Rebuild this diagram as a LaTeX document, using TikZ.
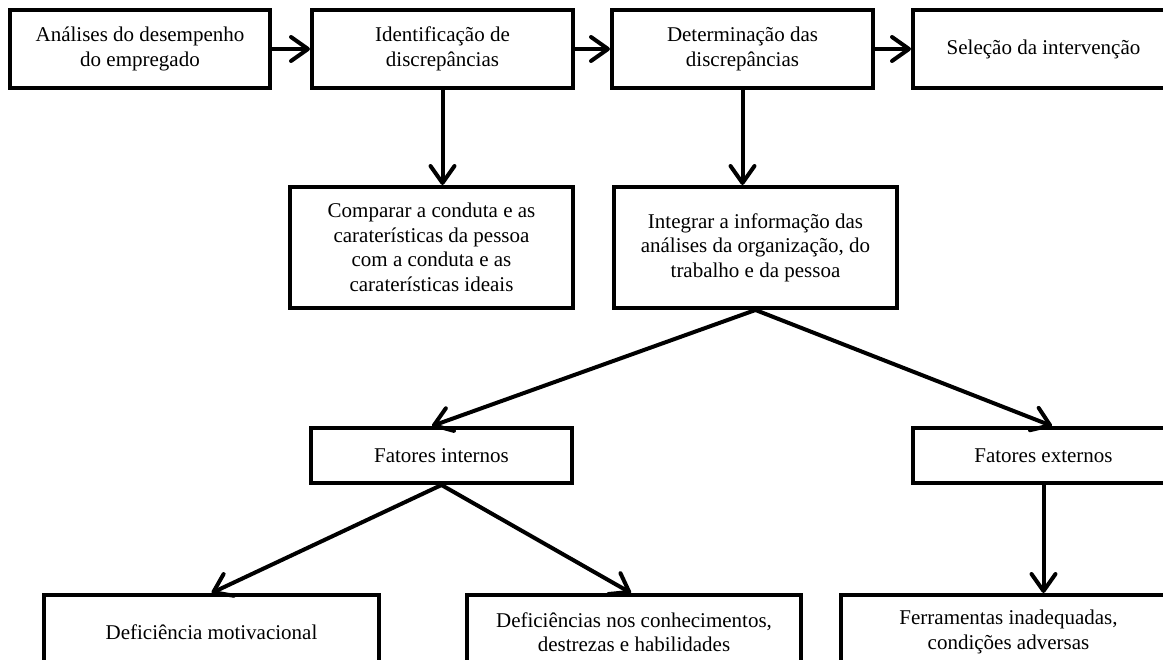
\documentclass[tikz,border=0pt]{standalone}
\usepackage{fontspec}
\setmainfont{Liberation Serif}
\usetikzlibrary{arrows.meta}
\begin{document}
\begin{tikzpicture}[x=1pt,y=-1pt,
  box/.style={draw=black, line width=4pt, fill=white, inner sep=0pt,
    align=center, font=\fontsize{21}{24.5}\selectfont},
  arr/.style={line width=4pt, line cap=round,
    -{Straight Barb[length=17pt,width=24pt,line width=4pt,round]}}]
\useasboundingbox (0,0) rectangle (1163,660);
\clip (0,0) rectangle (1163,660);

% top row: the four stages
\node[box, minimum width=260pt, minimum height=78pt] (b1) at (140,49)
  {Análises do desempenho\\do empregado};
\node[box, minimum width=261pt, minimum height=78pt] (b2) at (442.5,49)
  {Identificação de\\discrepâncias};
\node[box, minimum width=261pt, minimum height=78pt] (b3) at (742.5,49)
  {Determinação das\\discrepâncias};
\node[box, minimum width=261pt, minimum height=78pt] (b4) at (1043.5,49)
  {Seleção da intervenção};

% second row
\node[box, minimum width=283pt, minimum height=121pt] (c1) at (431.5,247.5)
  {Comparar a conduta e as\\caraterísticas da pessoa\\com a conduta e as\\caraterísticas ideais};
\node[box, minimum width=283pt, minimum height=121pt] (c2) at (755.5,247.5)
  {Integrar a informação das\\análises da organização, do\\trabalho e da pessoa};

% factors
\node[box, minimum width=261pt, minimum height=55pt] (f1) at (441.5,455.5)
  {Fatores internos};
\node[box, minimum width=261pt, minimum height=55pt] (f2) at (1043.5,455.5)
  {Fatores externos};

% deficiencies (their lower part runs past the page edge)
\node[box, minimum width=335pt, minimum height=74pt] (d1) at (211.5,632)
  {Deficiência motivacional};
\node[box, minimum width=334pt, minimum height=74pt] (d2) at (634,632)
  {Deficiências nos conhecimentos,\\destrezas e habilidades};
\node[box, minimum width=335pt, minimum height=74pt] (d3) at (1008.5,632)
  {Ferramentas inadequadas,\\condições adversas};

% connectors
\draw[arr] (b1.east) -- (b2.west);
\draw[arr] (b2.east) -- (b3.west);
\draw[arr] (b3.east) -- (b4.west);
\draw[arr] (b2.south) -- (b2.south |- c1.north);
\draw[arr] (b3.south) -- (b3.south |- c2.north);
\draw[arr] (c2.south) -- ([xshift=-9.5pt]f1.north);
\draw[arr] (c2.south) -- ([xshift=8.5pt]f2.north);
\draw[arr] (f1.south) -- (d1.north);
\draw[arr] (f1.south) -- ([xshift=-3pt]d2.north);
\draw[arr] (f2.south) -- (f2.south |- d3.north);
\end{tikzpicture}
\end{document}
